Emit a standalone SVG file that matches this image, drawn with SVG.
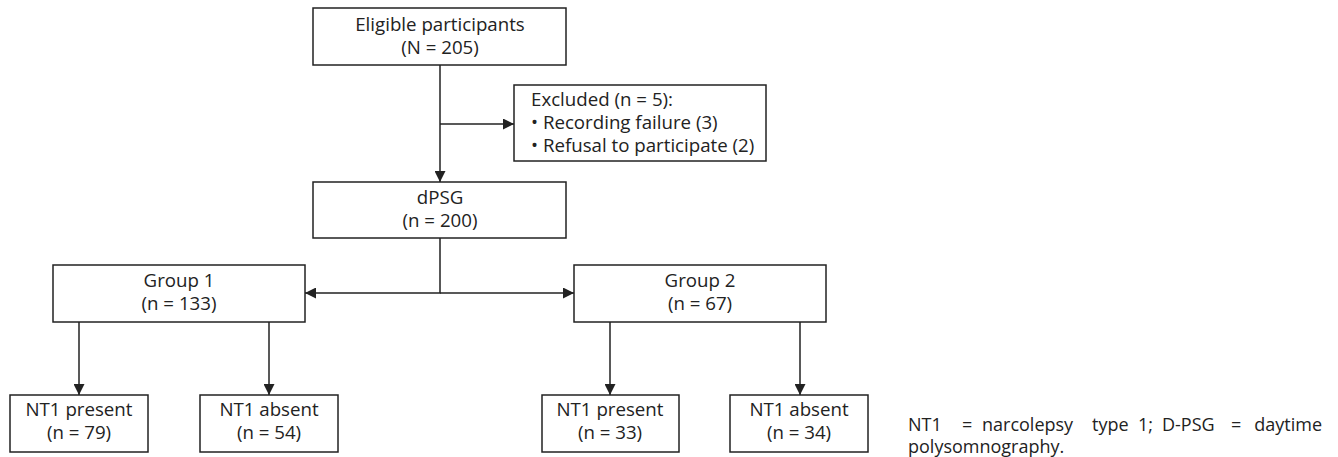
<svg xmlns="http://www.w3.org/2000/svg" width="1338" height="457" viewBox="0 0 1338 457">
<style>
rect{fill:#fff;stroke:#222;stroke-width:1.5}
text{font-family:"Open Sans","Noto Sans","DejaVu Sans",sans-serif;font-size:18.7px;fill:#222}
.c{text-anchor:middle}
.ln{stroke:#222;stroke-width:1.5;fill:none}
.fn{font-size:18px}
</style>
<defs>
<marker id="ah" viewBox="0 0 10 10" refX="10" refY="5" markerWidth="11" markerHeight="11" markerUnits="userSpaceOnUse" orient="auto">
<path d="M0,0 L10,5 L0,10 z" fill="#222"/>
</marker>
</defs>
<g id="connectors">
<path class="ln" d="M440,65 V182" marker-end="url(#ah)"/>
<path class="ln" d="M440,124 H514" marker-end="url(#ah)"/>
<path class="ln" d="M440,238 V293 H305" marker-end="url(#ah)"/>
<path class="ln" d="M440,293 H574" marker-end="url(#ah)"/>
<path class="ln" d="M79,322 V395" marker-end="url(#ah)"/>
<path class="ln" d="M269,322 V395" marker-end="url(#ah)"/>
<path class="ln" d="M610,322 V395" marker-end="url(#ah)"/>
<path class="ln" d="M800,322 V395" marker-end="url(#ah)"/>
</g>
<g id="eligible"><rect x="313" y="8" width="253" height="57"/><text class="c" x="440" y="31">Eligible participants</text><text class="c" x="440" y="54">(N = 205)</text></g>
<g id="excluded"><rect x="514" y="85" width="252" height="76"/><text x="531" y="106">Excluded (n = 5):</text><text x="531" y="129">• Recording failure (3)</text><text x="531" y="152">• Refusal to participate (2)</text></g>
<g id="dpsg"><rect x="313" y="182" width="253" height="56"/><text class="c" x="440" y="204">dPSG</text><text class="c" x="440" y="227">(n = 200)</text></g>
<g id="group1"><rect x="53" y="265" width="252" height="57"/><text class="c" x="179" y="287">Group 1</text><text class="c" x="179" y="310">(n = 133)</text></g>
<g id="group2"><rect x="574" y="265" width="252" height="57"/><text class="c" x="700" y="287">Group 2</text><text class="c" x="700" y="310">(n = 67)</text></g>
<g id="g1present"><rect x="10" y="395" width="138" height="57"/><text class="c" x="79" y="416">NT1 present</text><text class="c" x="79" y="439">(n = 79)</text></g>
<g id="g1absent"><rect x="200" y="395" width="138" height="57"/><text class="c" x="269" y="416">NT1 absent</text><text class="c" x="269" y="439">(n = 54)</text></g>
<g id="g2present"><rect x="542" y="395" width="137" height="57"/><text class="c" x="610" y="416">NT1 present</text><text class="c" x="610" y="439">(n = 33)</text></g>
<g id="g2absent"><rect x="730" y="395" width="138" height="57"/><text class="c" x="799" y="416">NT1 absent</text><text class="c" x="799" y="439">(n = 34)</text></g>
<g id="footnote">
<text class="fn"><tspan x="908" y="431">NT1</tspan><tspan x="962" y="431">=</tspan><tspan x="982" y="431">narcolepsy</tspan><tspan x="1092" y="431">type</tspan><tspan x="1138" y="431">1;</tspan><tspan x="1162" y="431">D-PSG</tspan><tspan x="1231" y="431">=</tspan><tspan x="1322" y="431" text-anchor="end">daytime</tspan><tspan x="908" y="453">polysomnography.</tspan></text>
</g>
</svg>
